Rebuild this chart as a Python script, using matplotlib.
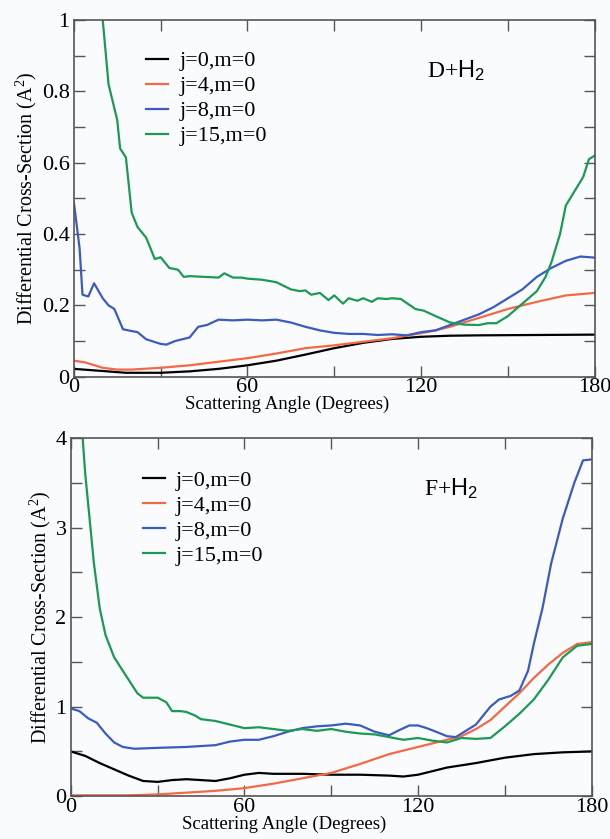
import numpy as np
import matplotlib.pyplot as plt
from matplotlib.ticker import MultipleLocator, FuncFormatter

plt.rcParams['font.family'] = ['Liberation Serif', 'DejaVu Serif']
plt.rcParams['mathtext.fontset'] = 'custom'
plt.rcParams['mathtext.rm'] = 'Liberation Serif'
plt.rcParams['mathtext.it'] = 'Liberation Serif:italic'
plt.rcParams['mathtext.sf'] = 'Liberation Sans'

# D+H2 differential cross sections (angle in degrees, value in A^2)
d_j0_x = [0, 10, 18, 30, 40, 50, 60, 70, 80, 90, 100, 110, 120, 130, 140, 160, 180]
d_j0_y = [0.022, 0.016, 0.011, 0.011, 0.015, 0.022, 0.032, 0.045, 0.062, 0.080, 0.095,
          0.106, 0.112, 0.115, 0.116, 0.117, 0.118]

d_j4_x = [0, 4, 10, 15, 20, 30, 40, 50, 60, 70, 80, 90, 100, 110, 120, 125, 130, 140,
          150, 160, 170, 180]
d_j4_y = [0.045, 0.040, 0.025, 0.020, 0.020, 0.025, 0.032, 0.042, 0.052, 0.065, 0.080,
          0.088, 0.098, 0.108, 0.122, 0.130, 0.140, 0.165, 0.190, 0.210, 0.228, 0.235]

d_j8_x = [0, 2, 3, 5, 7, 10, 12, 14, 17, 20, 22, 25, 30, 32, 35, 40, 43, 46, 50, 55, 60,
          65, 70, 75, 80, 85, 90, 95, 100, 105, 110, 115, 120, 125, 130, 135, 140, 145,
          150, 155, 160, 165, 170, 175, 180]
d_j8_y = [0.49, 0.36, 0.23, 0.225, 0.262, 0.22, 0.20, 0.19, 0.133, 0.128, 0.125, 0.105,
          0.092, 0.090, 0.100, 0.110, 0.140, 0.145, 0.160, 0.158, 0.160, 0.158, 0.160,
          0.152, 0.140, 0.130, 0.123, 0.120, 0.120, 0.117, 0.119, 0.116, 0.125, 0.130,
          0.145, 0.160, 0.175, 0.195, 0.220, 0.245, 0.280, 0.305, 0.325, 0.337, 0.334]

d_j15_x = [8, 10, 12, 15, 16, 18, 20, 22, 25, 28, 30, 33, 36, 38, 40, 45, 50, 52, 55, 58,
           60, 65, 70, 75, 78, 80, 82, 85, 88, 90, 93, 95, 98, 100, 103, 105, 108, 110,
           113, 118, 121, 125, 130, 135, 140, 143, 146, 150, 155, 160, 163, 165, 168,
           170, 173, 176, 178, 180]
d_j15_y = [1.2, 1.0, 0.82, 0.72, 0.64, 0.615, 0.46, 0.42, 0.39, 0.33, 0.335, 0.305, 0.30,
           0.28, 0.282, 0.28, 0.278, 0.29, 0.278, 0.278, 0.275, 0.272, 0.265, 0.245,
           0.240, 0.242, 0.230, 0.235, 0.215, 0.228, 0.205, 0.220, 0.213, 0.220, 0.210,
           0.220, 0.218, 0.220, 0.218, 0.190, 0.185, 0.170, 0.152, 0.146, 0.145, 0.150,
           0.150, 0.170, 0.205, 0.240, 0.280, 0.320, 0.400, 0.480, 0.520, 0.560, 0.610,
           0.620]

# F+H2 differential cross sections
f_j0_x = [0, 5, 10, 15, 20, 25, 30, 35, 40, 45, 50, 55, 60, 65, 70, 80, 90, 100, 110,
          115, 120, 125, 130, 140, 150, 160, 170, 180]
f_j0_y = [0.50, 0.45, 0.37, 0.30, 0.23, 0.17, 0.16, 0.18, 0.19, 0.18, 0.17, 0.20, 0.24,
          0.26, 0.25, 0.25, 0.24, 0.24, 0.23, 0.22, 0.24, 0.28, 0.32, 0.37, 0.43, 0.47,
          0.49, 0.50]

f_j4_x = [0, 20, 30, 40, 50, 60, 70, 80, 90, 100, 110, 120, 130, 135, 140, 145, 150,
          155, 160, 165, 170, 175, 180]
f_j4_y = [0.01, 0.01, 0.02, 0.04, 0.06, 0.09, 0.14, 0.20, 0.26, 0.36, 0.47, 0.55, 0.63,
          0.67, 0.75, 0.85, 1.00, 1.15, 1.32, 1.47, 1.60, 1.70, 1.72]

f_j8_x = [0, 3, 6, 9, 12, 15, 18, 22, 30, 40, 50, 55, 60, 65, 70, 75, 80, 85, 90, 95,
          100, 105, 110, 113, 117, 120, 123, 127, 130, 133, 135, 140, 145, 148, 152, 155,
          158, 160, 163, 166, 170, 174, 177, 180]
f_j8_y = [0.98, 0.95, 0.87, 0.82, 0.70, 0.60, 0.55, 0.53, 0.54, 0.55, 0.57, 0.61, 0.63,
          0.63, 0.67, 0.72, 0.76, 0.78, 0.79, 0.81, 0.79, 0.72, 0.68, 0.73, 0.79, 0.79,
          0.76, 0.71, 0.67, 0.66, 0.70, 0.80, 1.00, 1.08, 1.12, 1.18, 1.40, 1.70, 2.10,
          2.60, 3.10, 3.50, 3.75, 3.76]

f_j15_x = [3, 5, 8, 10, 12, 15, 18, 20, 23, 25, 28, 30, 33, 35, 38, 40, 43, 45, 50, 55,
           60, 65, 70, 75, 80, 85, 90, 95, 100, 105, 110, 115, 120, 125, 130, 135, 140,
           145, 150, 155, 160, 165, 170, 175, 180]
f_j15_y = [4.5, 3.6, 2.6, 2.1, 1.8, 1.55, 1.40, 1.30, 1.15, 1.10, 1.10, 1.10, 1.05, 0.95,
           0.95, 0.94, 0.90, 0.86, 0.84, 0.80, 0.76, 0.77, 0.75, 0.73, 0.75, 0.73, 0.75,
           0.72, 0.70, 0.69, 0.66, 0.63, 0.65, 0.62, 0.60, 0.65, 0.64, 0.65, 0.78, 0.92,
           1.08, 1.30, 1.55, 1.68, 1.70]

labels = ['j=0,m=0', 'j=4,m=0', 'j=8,m=0', 'j=15,m=0']
colors = ['black', '#f26a45', '#3a5cc0', '#1b9a55']

bg = '#fafbfd'
fig = plt.figure(figsize=(6.1, 8.39), dpi=100, facecolor=bg)
ax1 = fig.add_axes([0.121, 0.551, 0.854, 0.425])
ax2 = fig.add_axes([0.116, 0.051, 0.854, 0.427])


def draw(ax, curves, ymax, ymajor, yminor, title, leg_y):
    ax.set_facecolor(bg)
    for (x, y), lab, c in zip(curves, labels, colors):
        ax.plot(x, y, color=c, lw=1.6, label=lab)
    ax.set_xlim(0, 180)
    ax.set_ylim(0, ymax)
    ax.xaxis.set_major_locator(MultipleLocator(60))
    ax.xaxis.set_minor_locator(MultipleLocator(30))
    ax.yaxis.set_major_locator(MultipleLocator(ymajor))
    ax.yaxis.set_minor_locator(MultipleLocator(yminor))
    ax.yaxis.set_major_formatter(FuncFormatter(lambda v, p: f'{v:g}'))
    ax.tick_params(which='both', direction='in', top=True, right=True,
                   labelsize=16, color='#555555')
    ax.tick_params(which='both', length=8, width=1)
    ax.tick_params(axis='x', pad=1)
    ax.tick_params(axis='y', pad=3)
    for s in ax.spines.values():
        s.set_color('#555555')
        s.set_linewidth(1.2)
    ax.set_xlabel('Scattering Angle (Degrees)', fontsize=13.5)
    ax.xaxis.set_label_coords(0.41, -0.078)
    ax.xaxis.label.set_va('center')
    ax.set_ylabel('Differential Cross-Section (A$^2$)', fontsize=14.5, labelpad=2)
    ax.legend(loc='upper left', bbox_to_anchor=(0.1, leg_y), frameon=False,
              fontsize=16, handlelength=1.0, handletextpad=0.5, labelspacing=0.2)
    ax.text(0.678, 0.86, title, transform=ax.transAxes, fontsize=17, va='center')


draw(ax1, [(d_j0_x, d_j0_y), (d_j4_x, d_j4_y), (d_j8_x, d_j8_y), (d_j15_x, d_j15_y)],
     1, 0.2, 0.1, r'D+$\mathsf{H_2}$', 0.97)
draw(ax2, [(f_j0_x, f_j0_y), (f_j4_x, f_j4_y), (f_j8_x, f_j8_y), (f_j15_x, f_j15_y)],
     4, 1, 0.5, r'F+$\mathsf{H_2}$', 0.965)

fig.savefig('out.png', dpi=100, facecolor=bg)
